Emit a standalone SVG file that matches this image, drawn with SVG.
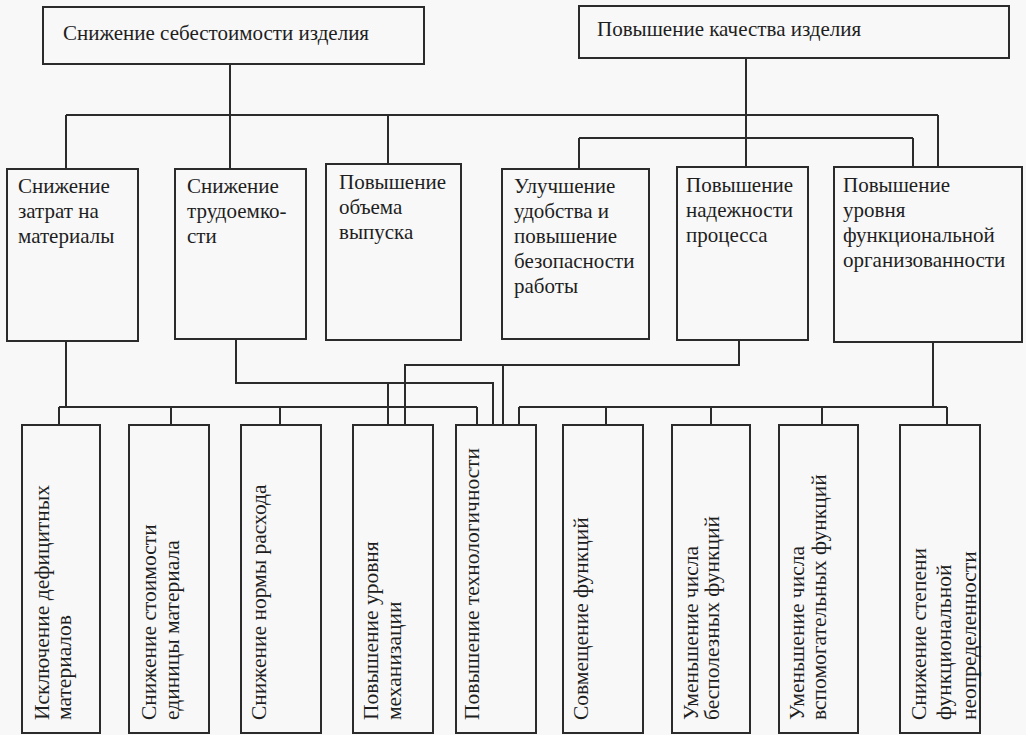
<svg xmlns="http://www.w3.org/2000/svg" width="1026" height="735" viewBox="0 0 1026 735">
<style>
.bx{fill:none;stroke:#2b2b2b;stroke-width:2}
.ln{fill:none;stroke:#2b2b2b;stroke-width:2}
.t{font-size:21px}
.v{font-size:21.5px}
</style>
<rect width="1026" height="735" fill="#f8f8f8"/>
<g id="connectors">
<path class="ln" d="M230,64V115 M746,58V167 M66,115H938 M66,115V169 M230,115V169 M388,115V164 M938,115V167 M579,138H913 M579,138V169 M913,138V167"/>
<path class="ln" d="M66,341V407 M59,407H477 M59,407V425 M171,407V425 M280,407V425 M477,407V425"/>
<path class="ln" d="M236,339V383H493V425 M388,383V425"/>
<path class="ln" d="M739,340V365H405V425 M503,365V425"/>
<path class="ln" d="M933,342V407 M519,407H947 M519,407V425 M606,407V425 M711,407V425 M822,407V425 M947,407V425"/>
</g>
<g font-family="'Liberation Serif', 'DejaVu Serif', serif" fill="#1e1e1e">
<g id="n-cost"><rect class="bx" x="43" y="7" width="381" height="57"/><text class="t" x="63" y="40">Снижение себестоимости изделия</text></g>
<g id="n-quality"><rect class="bx" x="579" y="6" width="430" height="52"/><text class="t" x="597" y="36">Повышение качества изделия</text></g>
<g id="n-mat"><rect class="bx" x="7" y="169" width="131" height="172"/><text class="t" x="18" y="193">Снижение</text><text class="t" x="18" y="218">затрат на</text><text class="t" x="18" y="243">материалы</text></g>
<g id="n-labor"><rect class="bx" x="175" y="169" width="131" height="170"/><text class="t" x="187" y="193">Снижение</text><text class="t" x="187" y="218">трудоемко-</text><text class="t" x="187" y="243">сти</text></g>
<g id="n-volume"><rect class="bx" x="326" y="164" width="135" height="176"/><text class="t" x="339" y="189">Повышение</text><text class="t" x="339" y="214">объема</text><text class="t" x="339" y="239">выпуска</text></g>
<g id="n-safety"><rect class="bx" x="502" y="169" width="147" height="170"/><text class="t" x="514" y="193">Улучшение</text><text class="t" x="514" y="218">удобства и</text><text class="t" x="514" y="243">повышение</text><text class="t" x="514" y="268">безопасности</text><text class="t" x="514" y="293">работы</text></g>
<g id="n-reliab"><rect class="bx" x="677" y="167" width="131" height="173"/><text class="t" x="686" y="192">Повышение</text><text class="t" x="686" y="217">надежности</text><text class="t" x="686" y="242">процесса</text></g>
<g id="n-func"><rect class="bx" x="834" y="167" width="188" height="175"/><text class="t" x="843" y="192">Повышение</text><text class="t" x="843" y="217">уровня</text><text class="t" x="843" y="242">функциональной</text><text class="t" x="843" y="267">организованности</text></g>
<g id="b1"><rect class="bx" x="22" y="425" width="78" height="308"/><text class="v" transform="translate(49,720) rotate(-90)">Исключение дефицитных</text><text class="v" transform="translate(71,720) rotate(-90)">материалов</text></g>
<g id="b2"><rect class="bx" x="129" y="425" width="80" height="308"/><text class="v" transform="translate(156,720) rotate(-90)">Снижение стоимости</text><text class="v" transform="translate(179,720) rotate(-90)">единицы материала</text></g>
<g id="b3"><rect class="bx" x="241" y="425" width="80" height="308"/><text class="v" transform="translate(266,720) rotate(-90)">Снижение нормы расхода</text></g>
<g id="b4"><rect class="bx" x="353" y="425" width="80" height="308"/><text class="v" transform="translate(378,720) rotate(-90)">Повышение уровня</text><text class="v" transform="translate(401,720) rotate(-90)">механизации</text></g>
<g id="b5"><rect class="bx" x="456" y="425" width="80" height="308"/><text class="v" transform="translate(479,720) rotate(-90)">Повышение технологичности</text></g>
<g id="b6"><rect class="bx" x="563" y="425" width="80" height="308"/><text class="v" transform="translate(588,720) rotate(-90)">Совмещение функций</text></g>
<g id="b7"><rect class="bx" x="672" y="425" width="78" height="308"/><text class="v" transform="translate(698,720) rotate(-90)">Уменьшение числа</text><text class="v" transform="translate(719,720) rotate(-90)">бесполезных функций</text></g>
<g id="b8"><rect class="bx" x="779" y="425" width="79" height="308"/><text class="v" transform="translate(804,720) rotate(-90)">Уменьшение числа</text><text class="v" transform="translate(826,720) rotate(-90)">вспомогательных функций</text></g>
<g id="b9"><rect class="bx" x="900" y="425" width="80" height="308"/><text class="v" transform="translate(926,720) rotate(-90)">Снижение степени</text><text class="v" transform="translate(951,720) rotate(-90)">функциональной</text><text class="v" transform="translate(976,720) rotate(-90)">неопределенности</text></g>
</g>
</svg>
